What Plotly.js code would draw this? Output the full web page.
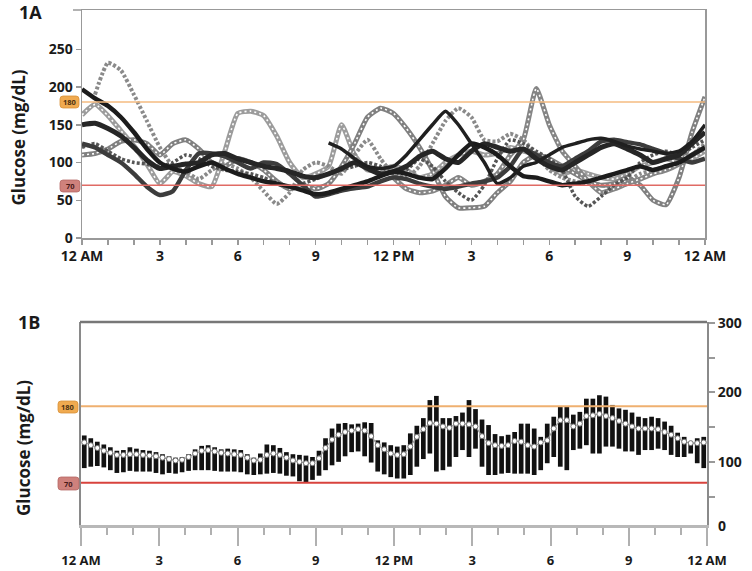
<!DOCTYPE html>
<html>
<head>
<meta charset="utf-8">
<script src="https://cdn.plot.ly/plotly-3.0.1.min.js"></script>
<style>html,body{margin:0;padding:0;background:#fff;}#chart{width:752px;height:571px;}</style>
</head>
<body>
<div id="chart"></div>
<script>
// ---------- Panel 1A: individual daily glucose traces (hours since midnight) ----------
var hoursA = [0,0.5,1,1.5,2,2.5,3,3.5,4,4.5,5,5.5,6,6.5,7,7.5,8,8.5,9,9.5,10,10.5,11,11.5,12,12.5,13,13.5,14,14.5,15,15.5,16,16.5,17,17.5,18,18.5,19,19.5,20,20.5,21,21.5,22,22.5,23,23.5,24];

var dayBlack1 = [197,185,175,160,140,118,100,92,88,95,100,92,85,80,75,72,68,63,58,60,65,70,75,82,88,85,80,78,92,110,125,120,110,95,82,80,75,70,72,75,80,85,90,95,90,95,100,110,120];
var dayBlack2 = [150,152,145,135,120,103,92,95,98,100,110,112,105,100,95,92,88,82,80,85,92,100,92,85,88,95,108,115,105,100,115,125,120,115,118,105,95,90,100,110,120,125,118,110,100,105,110,125,140];
var dayBlack3 = [125,120,110,100,85,68,57,62,90,112,112,108,100,92,100,98,85,70,55,58,63,66,68,75,80,78,72,68,65,68,72,75,80,95,118,110,100,95,105,115,128,130,127,124,118,112,105,100,105];
var dayBlack4 = [null,null,null,null,null,null,null,null,null,null,null,null,null,null,null,null,null,null,null,126,118,105,95,92,95,110,130,150,168,150,125,100,72,80,95,100,110,120,125,130,132,128,122,118,115,112,115,128,150];
var dayTriangles = [null,190,232,222,190,155,120,95,88,78,90,98,92,80,62,45,60,90,100,95,85,110,130,105,85,80,95,125,155,172,160,130,128,138,130,110,90,80,75,72,70,68,75,85,90,95,100,110,125];
var dayCircles = [163,177,162,142,122,98,72,88,82,72,68,115,165,168,162,135,100,80,85,95,150,110,90,90,95,90,80,85,100,110,115,110,112,120,115,110,95,85,90,85,80,78,85,95,100,105,100,105,115];
var daySquares1 = [110,112,118,128,130,125,110,125,130,118,100,95,105,100,90,75,65,70,65,72,95,125,160,172,165,145,120,90,55,40,40,42,60,75,100,110,105,95,85,75,70,72,80,70,50,44,80,140,187];
var daySquares2 = [null,null,null,null,null,null,null,null,null,null,null,null,null,null,null,null,null,null,null,null,null,null,null,null,80,65,60,62,70,80,70,75,85,110,130,198,150,115,95,75,60,65,72,78,85,90,98,110,120];
var dayDots = [120,125,115,105,100,98,95,100,110,105,95,90,88,85,80,72,68,72,78,85,90,95,100,95,85,90,105,95,75,60,50,70,105,130,125,115,105,90,55,42,55,70,80,100,110,115,110,120,130];

// ---------- Panel 1B: 15-minute summary (range bars + median) ----------
var hiB = [138,134,129,125,121,116,117,121,119,117,116,114,111,108,106,107,111,118,123,124,121,118,119,118,117,111,106,112,125,124,120,114,111,110,109,107,116,134,148,155,156,154,155,157,156,131,128,124,122,124,141,152,163,189,195,163,163,166,171,189,176,161,153,140,137,139,143,155,155,148,136,155,165,179,179,168,172,191,191,196,194,182,177,175,171,165,163,165,163,158,152,142,136,128,134,136];
var loB = [91,93,94,92,88,84,85,87,86,86,86,84,82,84,83,85,87,88,88,88,87,86,86,86,85,82,81,82,83,84,83,80,79,72,70,74,80,88,95,100,108,114,115,108,99,86,82,78,76,76,81,93,104,112,86,88,93,107,117,107,119,93,81,81,83,84,83,83,83,81,88,98,107,93,88,117,119,124,112,112,122,122,119,115,115,110,117,117,119,117,110,107,107,112,98,91];
var medB = [128,124,120,116,113,110,110,111,111,110,109,108,106,104,102,103,107,112,116,117,115,113,112,111,110,106,102,103,110,112,110,106,102,100,98,98,105,120,132,139,143,145,147,145,137,124,118,112,110,111,122,136,147,156,155,151,149,155,155,154,151,137,127,124,123,124,130,129,124,122,128,131,148,160,160,151,155,166,167,169,166,163,159,155,151,148,148,148,147,143,139,134,129,127,127,128];

var tickLabels = ['12 AM','3','6','9','12 PM','3','6','9','12 AM'];
var tickHours = [0,3,6,9,12,15,18,21,24];
var targetHigh = 180, targetLow = 70;

// time grid for panel B (bar centres every 15 min)
var timesB = [];
for (var k = 0; k < hiB.length; k++) timesB.push(0.125 + 0.25 * k);
var spanB = hiB.map(function (h, i) { return h - loB[i]; });

var W = 752, H = 571;
function px(x) { return x / W; }
function py(y) { return 1 - y / H; }

var FONT = 'Open Sans, Liberation Sans, sans-serif';

function darkTrace(y, color, width) {
  return {x: hoursA, y: y, xaxis: 'x', yaxis: 'y', type: 'scatter', mode: 'lines',
    connectgaps: false, line: {color: color, width: width, shape: 'spline', smoothing: 0.5},
    hoverinfo: 'skip'};
}
function hollowTraces(y, color) {
  return [
    {x: hoursA, y: y, xaxis: 'x', yaxis: 'y', type: 'scatter', mode: 'lines',
      line: {color: color, width: 5, shape: 'spline', smoothing: 0.5}, hoverinfo: 'skip'},
    {x: hoursA, y: y, xaxis: 'x', yaxis: 'y', type: 'scatter', mode: 'lines',
      line: {color: '#ffffff', width: 1.6, dash: '2px,3px', shape: 'spline', smoothing: 0.5}, hoverinfo: 'skip'}
  ];
}

var data = [];
data = data.concat(hollowTraces(dayCircles, '#9c9c9c'));
data.push({x: hoursA, y: dayTriangles, xaxis: 'x', yaxis: 'y', type: 'scatter', mode: 'lines',
  line: {color: '#8a8a8a', width: 4, dash: '3px,2px', shape: 'spline', smoothing: 0.5}, hoverinfo: 'skip'});
data = data.concat(hollowTraces(daySquares1, '#808080'));
data = data.concat(hollowTraces(daySquares2, '#858585'));
data.push({x: hoursA, y: dayDots, xaxis: 'x', yaxis: 'y', type: 'scatter', mode: 'lines',
  line: {color: '#555555', width: 3.5, dash: '3px,2px', shape: 'spline', smoothing: 0.5}, hoverinfo: 'skip'});
data.push(darkTrace(dayBlack3, '#3c3c3c', 4.5));
data.push(darkTrace(dayBlack2, '#262626', 5));
data.push(darkTrace(dayBlack1, '#1c1c1c', 4.5));
data.push(darkTrace(dayBlack4, '#202020', 3.5));

// panel B
data.push({x: timesB, y: spanB, base: loB, xaxis: 'x2', yaxis: 'y2', type: 'bar', width: 0.18,
  marker: {color: '#111111', line: {width: 0}}, hoverinfo: 'skip'});
data.push({x: timesB, y: medB, xaxis: 'x2', yaxis: 'y2', type: 'scatter', mode: 'lines+markers',
  line: {color: '#9a9a9a', width: 1.2},
  marker: {symbol: 'circle', size: 5, color: '#ffffff', line: {color: '#707070', width: 1}}, hoverinfo: 'skip'});

function roundRect(x0, y0, x1, y1, r) {
  var X = function (v) { return px(v).toFixed(5); };
  var Y = function (v) { return py(v).toFixed(5); };
  return 'M' + X(x0 + r) + ',' + Y(y0) +
    ' L' + X(x1 - r) + ',' + Y(y0) + ' Q' + X(x1) + ',' + Y(y0) + ' ' + X(x1) + ',' + Y(y0 + r) +
    ' L' + X(x1) + ',' + Y(y1 - r) + ' Q' + X(x1) + ',' + Y(y1) + ' ' + X(x1 - r) + ',' + Y(y1) +
    ' L' + X(x0 + r) + ',' + Y(y1) + ' Q' + X(x0) + ',' + Y(y1) + ' ' + X(x0) + ',' + Y(y1 - r) +
    ' L' + X(x0) + ',' + Y(y0 + r) + ' Q' + X(x0) + ',' + Y(y0) + ' ' + X(x0 + r) + ',' + Y(y0) + ' Z';
}

var orangeFill = '#f0aa50', orangeLine = '#d8923a', redFill = '#cf817c', redLine = '#b56864';

var shapes = [
  {type: 'line', xref: 'x', yref: 'y', x0: 0, x1: 24, y0: targetHigh, y1: targetHigh, line: {color: '#f5bb80', width: 1.5}},
  {type: 'line', xref: 'x', yref: 'y', x0: 0, x1: 24, y0: targetLow, y1: targetLow, line: {color: '#e06a64', width: 1.5}},
  {type: 'line', xref: 'paper', yref: 'paper', x0: px(73), x1: px(82), y0: py(10), y1: py(10), line: {color: '#999999', width: 1.5}},
  {type: 'line', xref: 'x2', yref: 'y2', x0: 0, x1: 24, y0: targetHigh, y1: targetHigh, line: {color: '#efb070', width: 2}},
  {type: 'line', xref: 'x2', yref: 'y2', x0: 0, x1: 24, y0: targetLow, y1: targetLow, line: {color: '#d8433d', width: 2}},
  {type: 'line', xref: 'paper', yref: 'paper', x0: px(80), x1: px(707), y0: py(322), y1: py(322), line: {color: '#777777', width: 2.5}},
  {type: 'path', xref: 'paper', yref: 'paper', path: roundRect(60, 96, 79, 108, 3), fillcolor: orangeFill, line: {color: orangeLine, width: 0.8}},
  {type: 'path', xref: 'paper', yref: 'paper', path: roundRect(60, 180, 80, 192, 3), fillcolor: redFill, line: {color: redLine, width: 0.8}},
  {type: 'path', xref: 'paper', yref: 'paper', path: roundRect(58, 401, 78, 413, 3), fillcolor: orangeFill, line: {color: orangeLine, width: 0.8}},
  {type: 'path', xref: 'paper', yref: 'paper', path: roundRect(58, 477, 79, 490, 3), fillcolor: redFill, line: {color: redLine, width: 0.8}}
];

function badgeText(t, x, y, c) {
  return {text: t, xref: 'paper', yref: 'paper', x: px(x), y: py(y), xanchor: 'center', yanchor: 'middle',
    showarrow: false, borderpad: 0, font: {family: FONT, size: 7.5, weight: 'bold', color: c}};
}

var annotations = [
  {text: '1A', xref: 'paper', yref: 'paper', x: px(31), y: py(12), xanchor: 'center', yanchor: 'middle', showarrow: false,
    font: {family: FONT, size: 18, weight: 'bold', color: '#1a1a1a'}},
  {text: '1B', xref: 'paper', yref: 'paper', x: px(28.5), y: py(321.5), xanchor: 'center', yanchor: 'middle', showarrow: false,
    font: {family: FONT, size: 18, weight: 'bold', color: '#1a1a1a'}},
  {text: 'Glucose (mg/dL)', xref: 'paper', yref: 'paper', x: px(17.5), y: py(138), textangle: -90, xanchor: 'center', yanchor: 'middle', showarrow: false,
    font: {family: FONT, size: 17, weight: 'bold', color: '#1a1a1a'}},
  {text: 'Glucose (mg/dL)', xref: 'paper', yref: 'paper', x: px(23), y: py(448), textangle: -90, xanchor: 'center', yanchor: 'middle', showarrow: false,
    font: {family: FONT, size: 17, weight: 'bold', color: '#1a1a1a'}},
  badgeText('180', 69.5, 102, '#4a3010'),
  badgeText('70', 70, 186, '#4a1a1a'),
  badgeText('180', 68, 407, '#4a3010'),
  badgeText('70', 68.5, 483.5, '#4a1a1a'),
  {text: '0', xref: 'paper', yref: 'paper', x: px(716), y: py(525), xanchor: 'left', yanchor: 'middle', showarrow: false,
    font: {family: FONT, size: 14, weight: 'bold', color: '#1a1a1a'}}
];

var hourTicks = [];
var hourText = [];
for (var h = 0; h <= 24; h++) {
  hourTicks.push(h);
  var idx = tickHours.indexOf(h);
  hourText.push(idx >= 0 ? tickLabels[idx] : '');
}

var tickFont = {family: FONT, size: 14, weight: 'bold', color: '#1a1a1a'};
var tickFontB = {family: FONT, size: 13, weight: 'bold', color: '#1a1a1a'};

var layout = {
  width: W, height: H,
  margin: {l: 0, r: 0, t: 0, b: 0, pad: 0},
  paper_bgcolor: '#ffffff', plot_bgcolor: '#ffffff',
  showlegend: false,
  xaxis: {domain: [px(82), px(705)], anchor: 'y', range: [0, 24], tickmode: 'array', tickvals: hourTicks, ticktext: hourText,
    ticks: 'outside', ticklen: 5, tickwidth: 1.5, tickcolor: '#999999', showline: true, linecolor: '#999999', linewidth: 1.5,
    mirror: true, showgrid: false, zeroline: false, tickfont: tickFont, fixedrange: true},
  yaxis: {domain: [py(238), py(10)], anchor: 'x', range: [0, 302], tickmode: 'array', tickvals: [0, 50, 100, 150, 200, 250],
    ticks: 'outside', ticklen: 5, tickwidth: 1.5, tickcolor: '#999999', showline: true, linecolor: '#999999', linewidth: 1.5,
    mirror: true, showgrid: false, zeroline: false, tickfont: tickFont, fixedrange: true},
  xaxis2: {domain: [px(81), px(707)], anchor: 'y2', range: [0, 24], tickmode: 'array', tickvals: tickHours, ticktext: tickLabels,
    ticks: 'outside', ticklen: 18, tickwidth: 2, tickcolor: '#b0b0b0', ticklabelstandoff: 3,
    minor: {tickmode: 'linear', tick0: 0, dtick: 1, ticks: 'outside', ticklen: 7, tickwidth: 2, tickcolor: '#b0b0b0'},
    showline: true, linecolor: '#b8b8b8', linewidth: 3, showgrid: false, zeroline: false, tickfont: tickFontB, fixedrange: true},
  yaxis2: {domain: [py(525), py(322)], anchor: 'x2', side: 'right', range: [9, 301.5], tickmode: 'array',
    tickvals: [50, 100, 150, 200, 250, 300], ticktext: ['', '100', '', '200', '', '300'],
    ticks: 'outside', ticklen: 6, tickwidth: 2, tickcolor: '#999999', showline: true, linecolor: '#8a8a8a', linewidth: 2,
    mirror: true, showgrid: false, zeroline: false, tickfont: tickFont, fixedrange: true},
  shapes: shapes,
  annotations: annotations
};

Plotly.newPlot('chart', data, layout, {staticPlot: true, displayModeBar: false});
</script>
</body>
</html>
